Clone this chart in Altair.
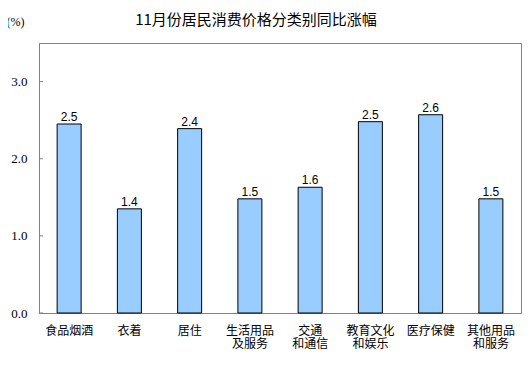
import altair as alt
import pandas as pd

title_text = "11月份居民消费价格分类别同比涨幅"
categories = ["食品烟酒", "衣着", "居住", "生活用品\n及服务", "交通\n和通信", "教育文化\n和娱乐", "医疗保健", "其他用品\n和服务"]
values = [2.45, 1.35, 2.39, 1.48, 1.63, 2.48, 2.57, 1.48]
value_labels = ["2.5", "1.4", "2.4", "1.5", "1.6", "2.5", "2.6", "1.5"]
y_ticks = [0.0, 1.0, 2.0, 3.0]

df = pd.DataFrame({"cat": categories, "val": values, "lab": value_labels})
tick_df = pd.DataFrame({"t": y_ticks})

GRAY = "#808080"
SERIF = "Liberation Serif, Times New Roman, serif"
CJK = "Noto Sans CJK SC, sans-serif"

x_enc = alt.X(
    "cat:N", sort=None, title=None,
    scale=alt.Scale(paddingInner=0, paddingOuter=0),
    axis=alt.Axis(
        labelAngle=0, ticks=False, domainColor=GRAY,
        labelExpr="split(datum.label, '\\n')",
        labelFont=CJK, labelFontSize=12, labelLineHeight=13,
        labelColor="#000000", labelPadding=12, labelBaseline="top",
    ),
)
y_scale = alt.Scale(domain=[0, 3.5], nice=False)

bars = alt.Chart(df).mark_bar(
    size=24, color="#99CCFF", stroke="#000000", strokeWidth=1
).encode(
    x=x_enc,
    y=alt.Y(
        "val:Q", scale=y_scale,
        axis=alt.Axis(
            values=y_ticks, format=".1f", ticks=False, grid=False,
            domainColor=GRAY, labelFont=SERIF, labelFontSize=13,
            labelColor="#000000", labelPadding=12,
            title="(%)", titleAngle=0, titleAlign="left", titleBaseline="alphabetic",
            titleX=-33, titleY=-18, titleFont=SERIF,
            titleFontSize=12, titleFontWeight="normal", titleColor="#000000",
        ),
    ),
)

texts = alt.Chart(df).mark_text(
    baseline="alphabetic", dy=-3, font="Liberation Sans, Arial, sans-serif",
    fontSize=12, color="#000000"
).encode(
    x=alt.X("cat:N", sort=None),
    y=alt.Y("val:Q", scale=y_scale),
    text="lab:N",
)

ticks = alt.Chart(tick_df).mark_rule(color=GRAY, strokeWidth=1).encode(
    y=alt.Y("t:Q", scale=y_scale),
    x=alt.value(0),
    x2=alt.value(4),
)

title_mark = alt.Chart(pd.DataFrame({"t": [title_text]})).mark_text(
    font=CJK, fontSize=15, color="#000000", align="center", baseline="middle"
).encode(
    x=alt.value(217),
    y=alt.value(-23),
    text="t:N",
)

chart = alt.layer(bars, texts, ticks, title_mark).properties(
    width=482, height=270,
    autosize=alt.AutoSizeParams(type="none"),
    padding={"left": 31, "top": 35, "right": 2, "bottom": 51},
).configure_view(stroke=GRAY, strokeWidth=1)

chart.save("out.html", embed_options={"renderer": "svg", "actions": False})
